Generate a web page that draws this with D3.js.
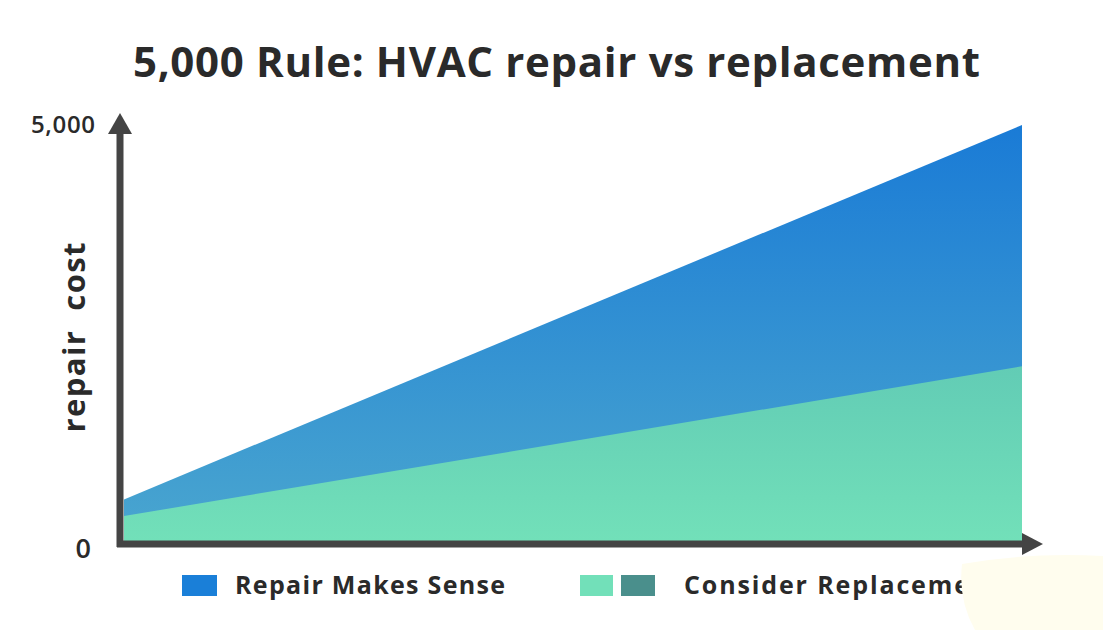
<!DOCTYPE html>
<html>
<head>
<meta charset="utf-8">
<script src="https://cdn.jsdelivr.net/npm/d3@7"></script>
<style>
  body { margin: 0; background: #fff; }
  svg { display: block; font-family: "Open Sans", "DejaVu Sans", sans-serif; }
</style>
</head>
<body>
<div id="chart"></div>
<script>
// system age (start -> end of the span shown), no ticks on the x axis
const age = [0, 20];
// cost at which repair still makes sense
const repairTop = [500, 5000];
// cost below which replacement should be considered
const replaceTop = [300, 2100];
const yTickLabels = ["0", "5,000"];
const legendLabels = ["Repair Makes Sense", "Consider Replacement"];

const width = 1103;
const height = 630;
const margin = { top: 125, right: 81, bottom: 89, left: 124 };

const svg = d3.select("#chart")
  .append("svg")
  .attr("width", width)
  .attr("height", height);

const defs = svg.append("defs");
const blueGrad = defs.append("linearGradient")
  .attr("id", "blueGrad")
  .attr("x1", 0).attr("y1", 0).attr("x2", 0).attr("y2", 1);
blueGrad.append("stop").attr("offset", "0%").attr("stop-color", "#1a7bd6");
blueGrad.append("stop").attr("offset", "100%").attr("stop-color", "#4aa6cf");

const greenGrad = defs.append("linearGradient")
  .attr("id", "greenGrad")
  .attr("x1", 0).attr("y1", 0).attr("x2", 0).attr("y2", 1);
greenGrad.append("stop").attr("offset", "0%").attr("stop-color", "#62ccb5");
greenGrad.append("stop").attr("offset", "100%").attr("stop-color", "#72e0b9");

const x = d3.scaleLinear()
  .domain(d3.extent(age))
  .range([margin.left, width - margin.right]);

const y = d3.scaleLinear()
  .domain([0, 5000])
  .range([height - margin.bottom, margin.top]);

const repairData = age.map((a, i) => ({ a, v: repairTop[i] }));
const replaceData = age.map((a, i) => ({ a, v: replaceTop[i] }));

const area = d3.area()
  .x(d => x(d.a))
  .y0(y(0))
  .y1(d => y(d.v));

svg.append("path")
  .datum(repairData)
  .attr("d", area)
  .attr("fill", "url(#blueGrad)");

svg.append("path")
  .datum(replaceData)
  .attr("d", area)
  .attr("fill", "url(#greenGrad)");

// axes with arrow heads
const axisColor = "#444444";
const x0 = margin.left - 4;
const yBase = y(0) + 3;

svg.append("line")
  .attr("x1", x0).attr("x2", x0)
  .attr("y1", yBase + 3).attr("y2", 132)
  .attr("stroke", axisColor).attr("stroke-width", 7);

svg.append("path")
  .attr("d", `M${x0 - 12},134 L${x0},113 L${x0 + 12},134 Z`)
  .attr("fill", axisColor);

svg.append("line")
  .attr("x1", x0 - 3).attr("x2", 1025)
  .attr("y1", yBase).attr("y2", yBase)
  .attr("stroke", axisColor).attr("stroke-width", 7);

svg.append("path")
  .attr("d", `M1022,${yBase - 11} L1043,${yBase} L1022,${yBase + 11} Z`)
  .attr("fill", axisColor);

// spreads the letters so a label covers the width it has in the reference
const fit = (sel, target) => {
  const w = sel.node().getComputedTextLength();
  const n = sel.text().length;
  sel.attr("letter-spacing", (target - w) / (n - 1));
};

// y tick labels
const maxLabel = svg.append("text")
  .attr("x", 31).attr("y", y(5000))
  .attr("dy", "0.35em")
  .attr("font-size", 24)
  .attr("font-weight", 600)
  .attr("fill", "#2a2a2a")
  .text(yTickLabels[1]);
fit(maxLabel, 64);

svg.append("text")
  .attr("x", 91).attr("y", y(0) + 8)
  .attr("dy", "0.35em")
  .attr("text-anchor", "end")
  .attr("font-size", 27)
  .attr("font-weight", 600)
  .attr("fill", "#2a2a2a")
  .text(yTickLabels[0]);

// y axis title
const yTitle = svg.append("text")
  .attr("transform", "translate(85,241) rotate(-90)")
  .attr("text-anchor", "end")
  .attr("font-size", 31)
  .attr("font-weight", 700)
  .attr("fill", "#2a2a2a")
  .attr("xml:space", "preserve")
  .text("repair  cost");
fit(yTitle, 190);

// title, fitted to the reference width
const title = svg.append("text")
  .attr("x", 133).attr("y", 77)
  .attr("font-size", 42)
  .attr("font-weight", 700)
  .attr("fill", "#2a2a2a")
  .text("5,000 Rule: HVAC repair vs replacement");
fit(title, 847);

// legend
const legend = svg.append("g").attr("id", "legend");

legend.append("rect")
  .attr("x", 182).attr("y", 575)
  .attr("width", 35).attr("height", 21)
  .attr("fill", "#1a7fd8");

const l1 = legend.append("text")
  .attr("x", 235).attr("y", 594)
  .attr("font-size", 25)
  .attr("font-weight", 700)
  .attr("fill", "#2a2a2a")
  .text(legendLabels[0]);
fit(l1, 270);

legend.append("rect")
  .attr("x", 580).attr("y", 575)
  .attr("width", 33).attr("height", 21)
  .attr("fill", "#72e0b9");

legend.append("rect")
  .attr("x", 621).attr("y", 575)
  .attr("width", 34).attr("height", 21)
  .attr("fill", "#4a8f8c");

const l2 = legend.append("text")
  .attr("x", 684).attr("y", 594)
  .attr("font-size", 25)
  .attr("font-weight", 700)
  .attr("fill", "#2a2a2a")
  .text(legendLabels[1]);
fit(l2, 316);

// cream patch over the bottom-right corner
svg.append("path")
  .attr("d", "M962,564 Q1030,552 1103,556 L1103,630 L975,630 Q958,600 962,564 Z")
  .attr("fill", "#fffdee");
</script>
</body>
</html>
